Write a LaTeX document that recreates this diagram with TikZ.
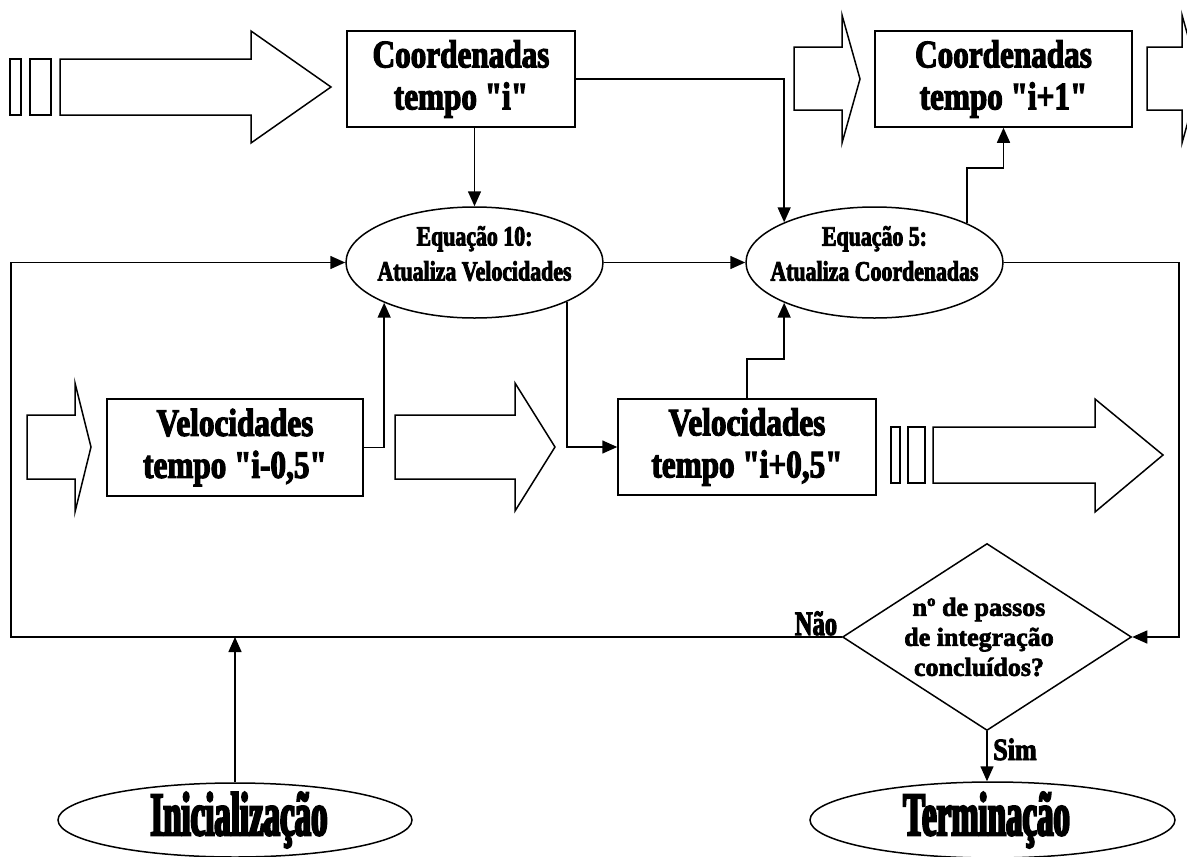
\documentclass[tikz,border=0pt]{standalone}
\usepackage{fontspec}
\usetikzlibrary{shapes.geometric,arrows.meta}
\newfontfamily\boxfnt{Liberation Serif}[FakeStretch=0.80,FakeBold=3]
\newfontfamily\eqfnt{Liberation Serif}[FakeStretch=0.78,FakeBold=3]
\newfontfamily\diafnt{Liberation Serif}[FakeStretch=1.0,FakeBold=2.6]
\newfontfamily\bigfnt{Liberation Serif}[FakeStretch=0.53,FakeBold=3.5]
\newfontfamily\naofnt{Liberation Serif}[FakeStretch=0.72,FakeBold=3]
\newfontfamily\simfnt{Liberation Serif}[FakeStretch=0.84,FakeBold=3]
\begin{document}
\begin{tikzpicture}[x=1pt,y=-1pt,line width=1.5pt,
  conn/.style={-{Triangle[length=15pt,width=13pt]},line width=1.5pt},
  hollow/.style={draw,line width=1.5pt,line join=miter,fill=white},
  box/.style={draw,line width=1.5pt,inner sep=0pt,align=center,
    font=\boxfnt\bfseries\fontsize{39}{42}\selectfont},
  ell/.style={draw,ellipse,line width=1.5pt,inner sep=0pt,minimum width=257pt,minimum height=111pt},
  eqtxt/.style={align=center,inner sep=0pt,yshift=9pt,font=\eqfnt\bfseries\fontsize{28}{35}\selectfont},
  dia/.style={draw,diamond,line width=1.5pt,inner sep=0pt,minimum width=289pt,minimum height=187pt},
  diatxt/.style={align=center,inner sep=0pt,xshift=-8pt,font=\diafnt\bfseries\fontsize{26}{30}\selectfont},
  bigell/.style={draw,ellipse,line width=1.5pt,inner sep=0pt},
  bigtxt/.style={inner sep=0pt,font=\bigfnt\bfseries\fontsize{62}{62}\selectfont},
  lbl/.style={inner sep=0pt,anchor=base}
]
\useasboundingbox (0,0) rectangle (1187,857);
\clip (0,0) rectangle (1187,857);
\fill[white] (0,0) rectangle (1187,857);

% hollow decorative arrows, top row
\draw[hollow] (10,59) rectangle (21,115);
\draw[hollow] (30,59) rectangle (51,115);
\draw[hollow] (60,59) -- (251,59) -- (251,31) -- (331,87) -- (251,143) -- (251,115) -- (60,115) -- cycle;
\draw[hollow] (794,47) -- (842,47) -- (842,15) -- (860,79) -- (842,143) -- (842,110) -- (794,110) -- cycle;
\draw[hollow] (1147,47) -- (1182,47) -- (1182,15) -- (1200,79) -- (1182,143) -- (1182,110) -- (1147,110) -- cycle;
% hollow decorative arrows, middle row
\draw[hollow] (27,415) -- (75,415) -- (75,383) -- (91,447) -- (75,512) -- (75,479) -- (27,479) -- cycle;
\draw[hollow] (395,415) -- (515,415) -- (515,383) -- (555,447) -- (515,511) -- (515,479) -- (395,479) -- cycle;
\draw[hollow] (891,427) rectangle (900,483);
\draw[hollow] (908,427) rectangle (925,483);
\draw[hollow] (933,427) -- (1095,427) -- (1095,399) -- (1163,455) -- (1095,512) -- (1095,483) -- (933,483) -- cycle;

% nodes
\node[box,minimum width=228pt,minimum height=96pt] (c1) at (461,79) {Coordenadas\\tempo "i"};
\node[box,minimum width=257pt,minimum height=96pt] (c2) at (1003.5,79) {Coordenadas\\tempo "i+1"};
\node[box,minimum width=256pt,minimum height=97pt] (v1) at (235,447.5) {Velocidades\\tempo "i-0,5"};
\node[box,minimum width=258pt,minimum height=96pt] (v2) at (747,447) {Velocidades\\tempo "i+0,5"};
\node[ell,label={[eqtxt]center:{Equação 10:\\Atualiza Velocidades}}] (eq10) at (474.5,262.5) {};
\node[ell,label={[eqtxt]center:{Equação 5:\\Atualiza Coordenadas}}] (eq5) at (874.5,262.5) {};
\node[dia,label={[diatxt]center:{nº de passos\\de integração\\concluídos?}}] (dia) at (987,637) {};
\node[bigell,minimum width=354pt,minimum height=74pt,label={[bigtxt,xshift=4pt]center:{Inicialização}}] (ini) at (235,820) {};
\node[bigell,minimum width=365pt,minimum height=76pt,label={[bigtxt,xshift=-6pt]center:{Terminação}}] (ter) at (992.5,820) {};
\node[lbl,font=\naofnt\bfseries\fontsize{34}{34}\selectfont] (nao) at (816,635) {Não};
\node[lbl,font=\simfnt\bfseries\fontsize{31}{31}\selectfont] (sim) at (1015,760) {Sim};

\coordinate (lc) at (11,637);
\coordinate (rc) at (1179,637);

% connectors
\draw[conn] (c1.south -| eq10.north) -- (eq10.north);
\draw[conn] (c1.east) -| (eq5.156);
\draw[conn] (eq10.east) -- (eq5.west);
\draw[conn] (eq5.23) |- (c2.south |- 0,168) -- (c2.south);
\draw[conn] (v1.east) -| (eq10.204);
\draw[conn] (eq10.337) |- (v2.west);
\draw[conn] (v2.north) |- (eq5.204 |- 0,359) -- (eq5.204);
\draw[conn] (eq5.east) -| (rc) -- (dia.east);
\draw[conn] (dia.west) -- (lc) |- (eq10.west);
\draw[conn] (ini.north) -- (ini.north |- lc);
\draw[conn] (dia.south) -- (dia.south |- ter.north);
\end{tikzpicture}
\end{document}
